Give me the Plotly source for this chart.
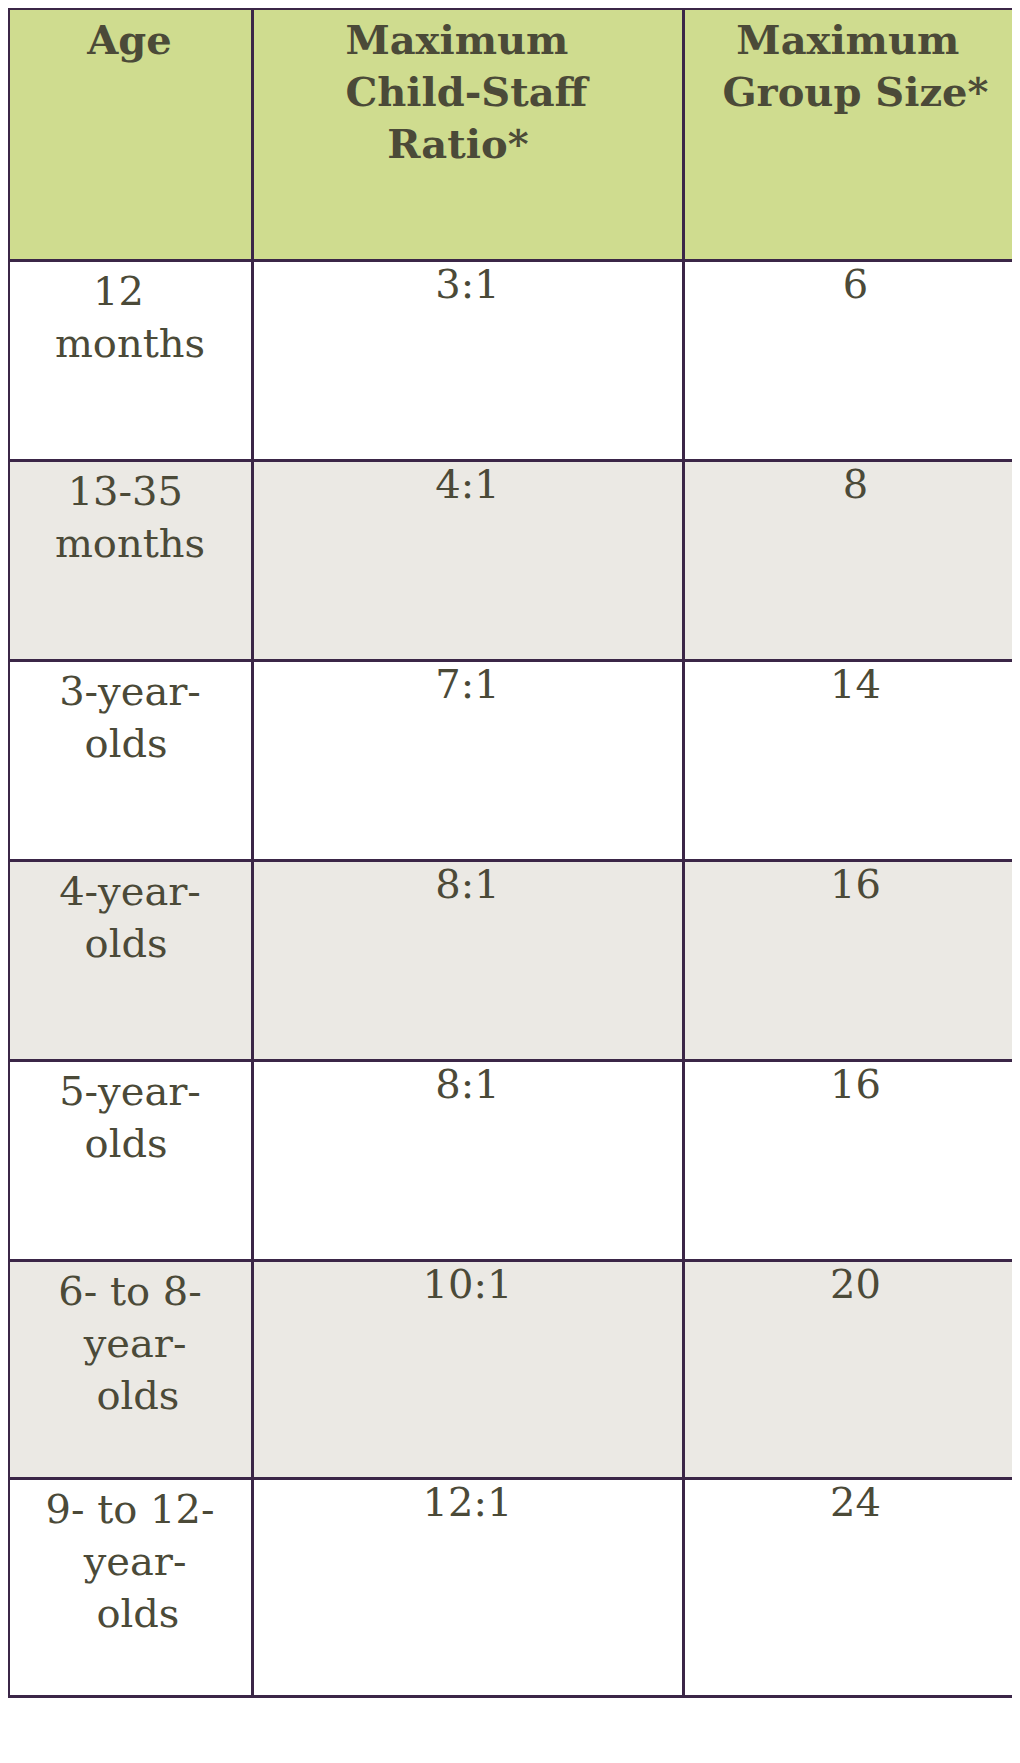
import plotly.graph_objects as go

headers = ["<b>Age</b>", "<b>Maximum<br>Child-Staff<br>&nbsp;&nbsp;&nbsp;Ratio*</b>",
           "<b>&nbsp;Maximum<br>Group Size*</b>"]
ages = ["&nbsp;&nbsp;&nbsp;12<br>months", "&nbsp;13-35<br>months",
        "3-year-<br>&nbsp;&nbsp;olds", "4-year-<br>&nbsp;&nbsp;olds",
        "5-year-<br>&nbsp;&nbsp;olds", "6- to 8-<br>&nbsp;&nbsp;year-<br>&nbsp;&nbsp;&nbsp;olds<br>&nbsp;",
        "9- to 12-<br>&nbsp;&nbsp;&nbsp;year-<br>&nbsp;&nbsp;&nbsp;&nbsp;olds<br>&nbsp;"]
ratios = ["3:1", "4:1", "7:1", "8:1", "8:1", "10:1", "12:1"]
group_sizes = ["6", "8", "14", "16", "16", "20", "24"]

line_col = "#3b2647"
text_col = "#4b4a38"
row_fill = ["#ffffff" if i % 2 == 0 else "#ebe9e4" for i in range(len(ages))]

fig = go.Figure(go.Table(
    columnwidth=[244, 431, 345],
    header=dict(
        values=headers,
        fill_color="#cfdc8f",
        line=dict(color=line_col, width=3),
        font=dict(family="DejaVu Serif", size=40, color=text_col),
        align="center",
        height=252,
    ),
    cells=dict(
        values=[ages, ratios, group_sizes],
        fill_color=[row_fill] * 3,
        line=dict(color=line_col, width=3),
        font=dict(family="DejaVu Serif", size=40, color=text_col),
        align="center",
        height=200,
    ),
))
fig.update_layout(width=1020, height=1763, margin=dict(l=0, r=0, t=0, b=0),
                  paper_bgcolor="white")
fig.write_html("out.html")
